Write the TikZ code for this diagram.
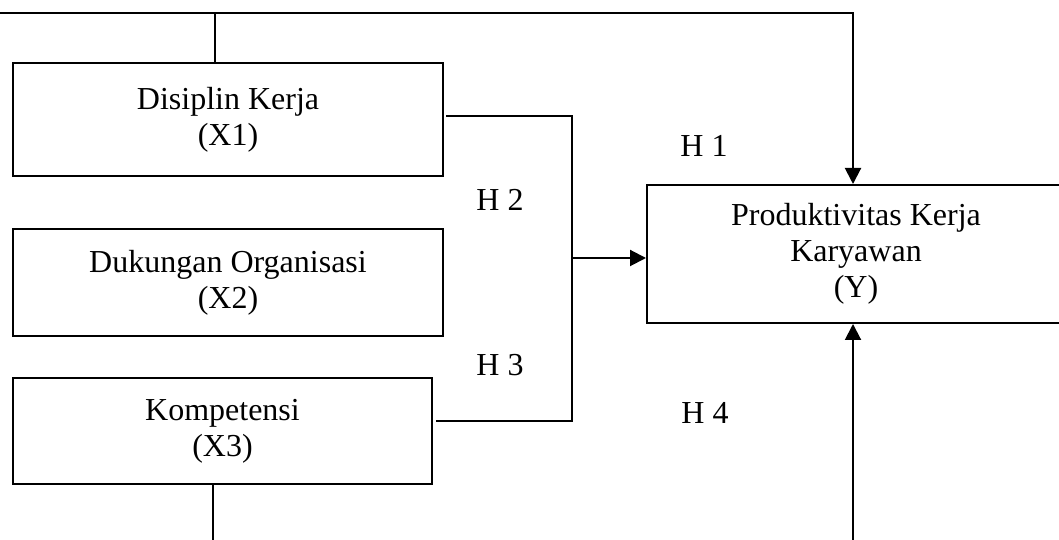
\documentclass[tikz,border=0pt]{standalone}
\usepackage{fontspec}
\setmainfont{Liberation Serif}
\usetikzlibrary{arrows.meta,calc}
\def\u{0.375pt}
\begin{document}
\begin{tikzpicture}[x=0.375pt,y=-0.375pt,
  line width=0.75pt,
  font=\fontsize{12}{13.5}\selectfont,
  box/.style={draw, line width=0.75pt, inner sep=0pt, align=center},
  hlabel/.style={inner sep=0pt},
  arr/.style={-{Triangle[length=6pt,width=6pt]}}]
  % page frame
  \fill[white] (0,0) rectangle (1059,540);
  \useasboundingbox (0,0) rectangle (1059,540);

  % variables
  \node[box, minimum width=430*\u, minimum height=113*\u] (x1) at (228,119.5)
    {Disiplin Kerja\\(X1)};
  \node[box, minimum width=430*\u, minimum height=107*\u] (x2) at (228,282.5)
    {Dukungan Organisasi\\(X2)};
  \node[box, minimum width=419*\u, minimum height=106*\u] (x3) at (222.5,431)
    {Kompetensi\\(X3)};
  \node[box, minimum width=418*\u, minimum height=138*\u] (y) at (856,254)
    {Produktivitas Kerja\\Karyawan\\(Y)};

  % hypothesis labels
  \node[hlabel] (h1) at (704,146) {H 1};
  \node[hlabel] (h2) at (500,200) {H 2};
  \node[hlabel] (h3) at (500,365) {H 3};
  \node[hlabel] (h4) at (705,413) {H 4};

  % joint path of X1 and X3
  \coordinate (jt) at (572,116);
  \coordinate (jb) at (572,421);
  \coordinate (j) at (572,258);
  \draw ($(x1.east)+(2,-3.5)$) -- (jt) -- (jb) -- ($(x3.east)+(3,-10)$);
  \draw[arr] (j) -- (j -| y.west);

  % direct path X1 -> Y
  \draw[arr] ($(x1.north)+(-13,0)$) |- (0,13) -| ($(y.north)+(-3,0)$);

  % path X3 -> Y below the boxes
  \draw[arr] ($(x3.south)+(-9.5,0)$) -- ++(0,70) -| ($(y.south)+(-3,0)$);
\end{tikzpicture}
\end{document}
